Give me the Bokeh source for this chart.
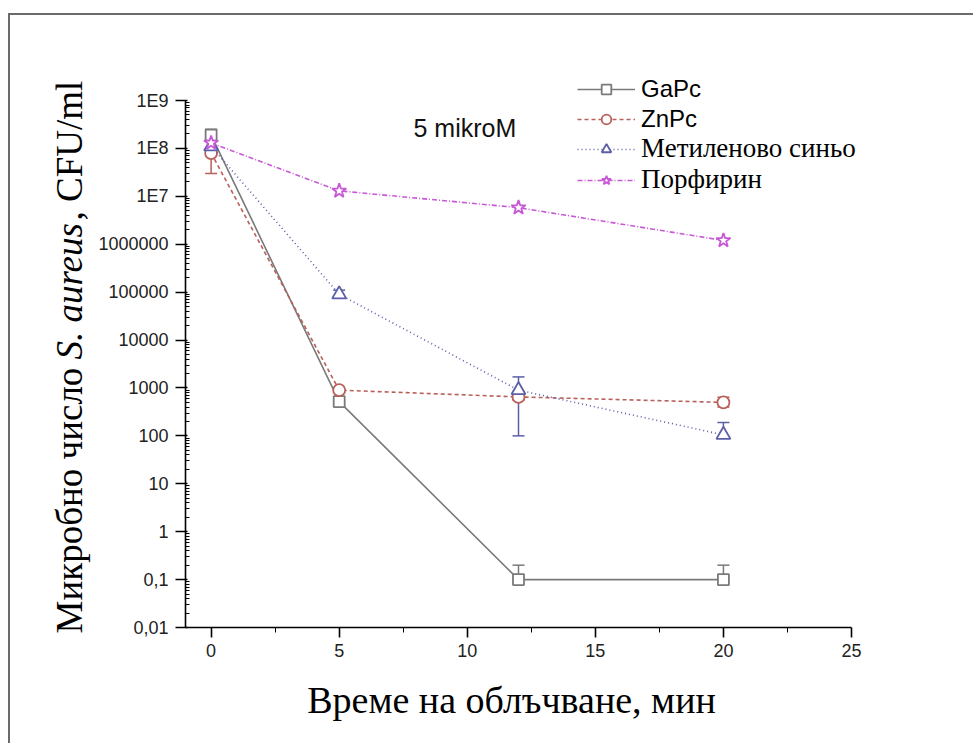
import math
from bokeh.plotting import figure
from bokeh.models import (ColumnDataSource, FixedTicker, CustomJSTickFormatter, Whisker, TeeHead,
                          Legend, LegendItem, Label, Range1d)
from bokeh.embed import file_html
from bokeh.resources import INLINE

# ---------------- data ----------------
time_min = [0, 5, 12, 20]

gapc = [1.9e8, 520, 0.1, 0.1]
gapc_lo = [1.9e8, 520, 0.1, 0.1]
gapc_hi = [2.5e8, 520, 0.2, 0.2]

znpc = [8.0e7, 900, 650, 500]
znpc_lo = [3.0e7, 800, 560, 400]
znpc_hi = [8.0e7, 900, 650, 640]

mb = [1.1e8, 9.0e4, 900, 105]
mb_lo = [1.1e8, 8.0e4, 100, 105]
mb_hi = [1.1e8, 1.1e5, 1700, 190]

porph = [1.3e8, 1.3e7, 5.8e6, 1.2e6]
porph_lo = [1.3e8, 1.3e7, 5.8e6, 1.2e6]
porph_hi = [1.3e8, 1.3e7, 5.8e6, 1.2e6]

series_names = ["GaPc", "ZnPc", "Метиленово синьо", "Порфирин"]

y_ticks = [1e-2, 1e-1, 1, 10, 100, 1e3, 1e4, 1e5, 1e6, 1e7, 1e8, 1e9]
y_tick_labels = ["0,01", "0,1", "1", "10", "100", "1000", "10000", "100000",
                 "1000000", "1E7", "1E8", "1E9"]
x_ticks = [0, 5, 10, 15, 20, 25]
x_minor_ticks = [2.5, 7.5, 12.5, 17.5, 22.5]
x_bounds = (-1, 25)
y_bounds = (1e-2, 1e9)

x_title = "Време на облъчване, мин"
y_title_parts = ["Микробно число ", "S. aureus", ", CFU/ml"]
annotation_text = "5 mikroM"

# ---------------- layout (pixels) ----------------
W, H = 973, 743
FL, FR, FT, FB = 185, 851, 100, 627          # where the axes box sits on the page
ppu = (FR - FL) / (x_bounds[1] - x_bounds[0])
ppd = (FB - FT) / (math.log10(y_bounds[1]) - math.log10(y_bounds[0]))


def px_x(px):
    return x_bounds[0] + (px - FL) / ppu


def px_y(py):
    return 10 ** (math.log10(y_bounds[1]) - (py - FT) / ppd)


p = figure(width=W, height=H, y_axis_type="log",
           x_range=Range1d(px_x(0), px_x(W)), y_range=Range1d(px_y(H), px_y(0)),
           output_backend="svg", toolbar_location=None,
           min_border=0, min_border_left=0, min_border_right=0,
           min_border_top=0, min_border_bottom=0)
p.outline_line_color = None
p.grid.visible = False
p.background_fill_alpha = 0
p.border_fill_alpha = 0
p.styles = {
    "background-color": "white",
    "background-image": "linear-gradient(#6a6a6a,#6a6a6a), linear-gradient(#6a6a6a,#6a6a6a)",
    "background-size": "2px 740px, 970px 2px",
    "background-position": "8px 13px, 8px 13px",
    "background-repeat": "no-repeat",
}

y_minor = [k * 10.0 ** e for e in range(-2, 9) for k in range(2, 10)]
p.yaxis.ticker = FixedTicker(ticks=y_ticks, minor_ticks=y_minor)
p.yaxis.formatter = CustomJSTickFormatter(args=dict(labels=y_tick_labels), code="""
    const e = Math.round(Math.log10(tick));
    const i = e + 2;
    return (i >= 0 && i < labels.length) ? labels[i] : "";
""")
p.xaxis.ticker = FixedTicker(ticks=x_ticks, minor_ticks=x_minor_ticks)
p.xaxis.fixed_location = y_bounds[0]
p.yaxis.fixed_location = x_bounds[0]
p.xaxis.bounds = x_bounds
p.yaxis.bounds = y_bounds

for ax in (p.xaxis[0], p.yaxis[0]):
    ax.axis_line_color = "black"
    ax.axis_line_width = 1.6
    ax.major_tick_line_color = "black"
    ax.major_tick_line_width = 1.6
    ax.minor_tick_line_color = "black"
    ax.major_label_text_font = "Liberation Sans"
    ax.major_label_text_font_size = "18px"
    ax.major_label_text_color = "#222222"

p.yaxis.major_tick_out = 10
p.yaxis.major_tick_in = 2
p.yaxis.minor_tick_out = 0
p.yaxis.minor_tick_in = 4
p.yaxis.major_label_standoff = 7

p.xaxis.major_tick_out = 10
p.xaxis.major_tick_in = 0
p.xaxis.minor_tick_out = 5
p.xaxis.minor_tick_in = 0
p.xaxis.major_label_standoff = 6

# ---------------- series ----------------
styles = [
    dict(y=gapc, lo=gapc_lo, hi=gapc_hi, color="#7a7a7a", dash="solid", marker="square", size=11),
    dict(y=znpc, lo=znpc_lo, hi=znpc_hi, color="#b9605a", dash="4 3", marker="circle", size=12),
    dict(y=mb, lo=mb_lo, hi=mb_hi, color="#5c5fa8", dash="1 3", marker="triangle", size=14),
    dict(y=porph, lo=porph_lo, hi=porph_hi, color="#c859d6", dash="5 2 1 2", marker="star", size=15),
]

legend_items = []
for name, st in zip(series_names, styles):
    src = ColumnDataSource(dict(x=time_min, y=st["y"]))
    lr = p.line("x", "y", source=src, line_color=st["color"], line_width=1.6,
                line_dash=st["dash"])
    up = [(x, v, h) for x, v, h in zip(time_min, st["y"], st["hi"]) if h > v]
    if up:
        usrc = ColumnDataSource(dict(x=[u[0] for u in up], base=[u[1] for u in up],
                                     top=[u[2] for u in up]))
        p.add_layout(Whisker(source=usrc, dimension="height", base="x", lower="base", upper="top",
                             line_color=st["color"], line_width=1.5,
                             upper_head=TeeHead(size=12, line_color=st["color"], line_width=1.5),
                             lower_head=None))
    dn = [(x, v, l) for x, v, l in zip(time_min, st["y"], st["lo"]) if l < v]
    if dn:
        dsrc = ColumnDataSource(dict(x=[d[0] for d in dn], base=[d[1] for d in dn],
                                     bot=[d[2] for d in dn]))
        p.add_layout(Whisker(source=dsrc, dimension="height", base="x", lower="bot", upper="base",
                             line_color=st["color"], line_width=1.5,
                             lower_head=TeeHead(size=12, line_color=st["color"], line_width=1.5),
                             upper_head=None))
    sr = p.scatter("x", "y", source=src, marker=st["marker"], size=st["size"],
                   line_color=st["color"], fill_color="white", line_width=1.8)
    legend_items.append(LegendItem(label=name, renderers=[lr, sr]))

# ---------------- legends ----------------
common = dict(border_line_color=None, background_fill_alpha=0, padding=0, margin=0,
              glyph_width=58, glyph_height=24, label_height=26,
              label_standoff=6, label_text_color="black")
leg1 = Legend(items=legend_items[:2], location=(577, H - 133), spacing=2,
              label_text_font="Liberation Sans", label_text_font_size="24px", **common)
leg2 = Legend(items=legend_items[2:], location=(577, H - 195), spacing=0,
              label_text_font="Liberation Serif", label_text_font_size="27px", **common)
p.add_layout(leg1)
p.add_layout(leg2)

# ---------------- texts ----------------
p.add_layout(Label(x=px_x(413), y=px_y(127), text=annotation_text, text_font="Liberation Sans",
                   text_font_size="25px", text_baseline="middle", text_color="#111111"))

p.add_layout(Label(x=px_x(511), y=px_y(699), text=x_title, text_align="center",
                   text_baseline="alphabetic", text_font="Liberation Serif",
                   text_font_size="38px", text_color="black"))

ylab_starts = [633, 359, 220]
ylab_styles = ["normal", "italic", "normal"]
for txt, ys, fst in zip(y_title_parts, ylab_starts, ylab_styles):
    p.add_layout(Label(x=px_x(69), y=px_y(ys), text=txt,
                       angle=math.pi / 2, text_align="left", text_baseline="alphabetic",
                       text_font="Liberation Serif", text_font_style=fst,
                       text_font_size="37px", text_color="black"))

open("out.html", "w").write(file_html(p, INLINE))
